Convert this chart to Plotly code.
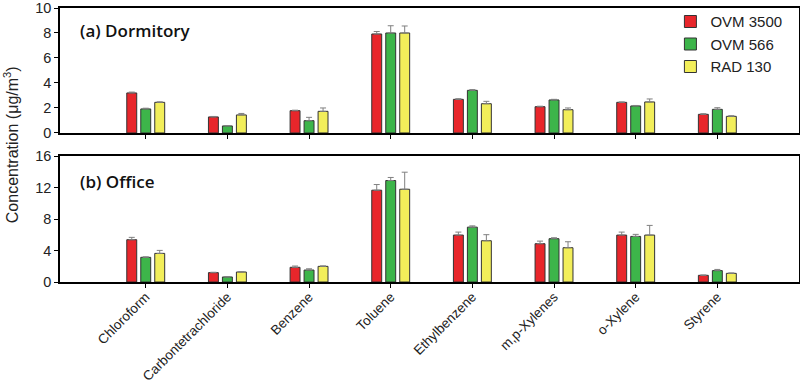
import plotly.graph_objects as go

categories = ["Chloroform", "Carbontetrachloride", "Benzene", "Toluene",
              "Ethylbenzene", "m,p-Xylenes", "o-Xylene", "Styrene"]
series_names = ["OVM 3500", "OVM 566", "RAD 130"]
colors = ["#e8262b", "#3db54a", "#f2ee5a"]

# (a) Dormitory
dorm_ovm3500 = [3.20, 1.28, 1.78, 7.92, 2.69, 2.10, 2.45, 1.49]
dorm_ovm566 = [1.92, 0.56, 0.98, 8.00, 3.41, 2.64, 2.16, 1.89]
dorm_rad130 = [2.45, 1.44, 1.73, 8.00, 2.34, 1.86, 2.48, 1.33]
dorm_err3500 = [0.07, 0.04, 0.04, 0.20, 0.05, 0.04, 0.03, 0.05]
dorm_err566 = [0.06, 0.03, 0.27, 0.58, 0.06, 0.05, 0.04, 0.13]
dorm_err130 = [0.04, 0.12, 0.27, 0.56, 0.19, 0.14, 0.24, 0.05]

# (b) Office
off_ovm3500 = [5.38, 1.19, 1.87, 11.68, 5.97, 4.87, 5.97, 0.85]
off_ovm566 = [3.14, 0.64, 1.52, 12.91, 6.98, 5.51, 5.80, 1.45]
off_rad130 = [3.64, 1.27, 1.99, 11.80, 5.25, 4.36, 5.97, 1.10]
off_err3500 = [0.30, 0.05, 0.16, 0.72, 0.38, 0.33, 0.38, 0.04]
off_err566 = [0.06, 0.04, 0.16, 0.39, 0.16, 0.12, 0.26, 0.15]
off_err130 = [0.38, 0.04, 0.06, 2.17, 0.77, 0.76, 1.23, 0.05]

y_ticks_top = [0, 2, 4, 6, 8, 10]
y_ticks_bot = [0, 4, 8, 12, 16]

idx = list(range(len(categories)))

fig = go.Figure()

panels = [
    ("x", "y", [dorm_ovm3500, dorm_ovm566, dorm_rad130], [dorm_err3500, dorm_err566, dorm_err130], True),
    ("x2", "y2", [off_ovm3500, off_ovm566, off_rad130], [off_err3500, off_err566, off_err130], False),
]
for xa, ya, vals, errs, show in panels:
    for name, col, v, e in zip(series_names, colors, vals, errs):
        fig.add_trace(go.Bar(
            x=idx, y=v, name=name, xaxis=xa, yaxis=ya,
            marker=dict(color=col, line=dict(color="#333333", width=1)),
            error_y=dict(type="data", array=e, arrayminus=[0] * len(e), symmetric=False,
                         color="#808080", thickness=1, width=3),
            showlegend=show, legendgroup=name,
        ))

axis_common = dict(
    showline=True, linecolor="black", linewidth=1.5, mirror=True,
    showgrid=False, zeroline=False, automargin=False,
    ticks="outside", ticklen=4, tickcolor="black", ticklabeloverflow="allow",
)
font_tick = dict(family="Liberation Sans, Arial, sans-serif", size=14.5, color="#222222")

fig.update_layout(
    width=800, height=383,
    margin=dict(l=60, r=1, t=8, b=101, autoexpand=False),
    plot_bgcolor="white", paper_bgcolor="white",
    barmode="group", bargap=0.486, bargroupgap=0.29,
    showlegend=True,
    legend=dict(x=0.826, y=1.01, xanchor="left", yanchor="top",
                font=dict(family="Liberation Sans, Arial, sans-serif", size=15, color="#222222"),
                bgcolor="rgba(0,0,0,0)", tracegroupgap=0, itemwidth=30),
    xaxis=dict(**axis_common, range=[-1.05, 8.0], tickvals=idx, showticklabels=False,
               anchor="y", domain=[0, 1]),
    xaxis2=dict(**axis_common, range=[-1.05, 8.0], tickvals=idx, ticktext=categories,
                tickangle=-45, anchor="y2", domain=[0, 1], ticklabelstandoff=-4,
                tickfont=dict(family="Liberation Sans, Arial, sans-serif", size=13.5,
                              color="#222222")),
    yaxis=dict(**axis_common, range=[0, 10], tickvals=y_ticks_top, domain=[0.544, 1.0],
               anchor="x", tickfont=font_tick),
    yaxis2=dict(**axis_common, range=[0, 16], tickvals=y_ticks_bot, domain=[0.0, 0.459],
                anchor="x2", tickfont=font_tick),
    annotations=[
        dict(text="(a) Dormitory", x=0.025, y=0.968, xref="paper", yref="paper",
             xanchor="left", yanchor="top", showarrow=False,
             font=dict(family="Open Sans, sans-serif", size=17, color="#111111", weight=600)),
        dict(text="(b) Office", x=0.025, y=0.416, xref="paper", yref="paper",
             xanchor="left", yanchor="top", showarrow=False,
             font=dict(family="Open Sans, sans-serif", size=17, color="#111111", weight=600)),
        dict(text="Concentration (μg/m<sup>3</sup>)", x=-0.066, y=0.5, xref="paper", yref="paper",
             xanchor="center", yanchor="middle", textangle=-90, showarrow=False,
             font=dict(family="Liberation Sans, Arial, sans-serif", size=16, color="#222222")),
    ],
)

fig.write_html("out.html", config={"displayModeBar": False},
               post_script="document.body.style.margin='0';document.body.style.overflow='hidden';")
